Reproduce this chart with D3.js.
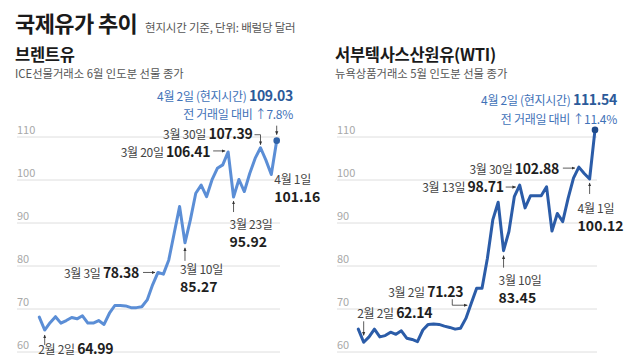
<!DOCTYPE html>
<html><head><meta charset="utf-8">
<script src="https://cdn.jsdelivr.net/npm/d3@7/dist/d3.min.js"></script>
<style>
html,body{margin:0;padding:0;background:#fff;}
svg{display:block;font-family:"Noto Sans CJK KR","Noto Sans",sans-serif;}
</style></head><body>
<svg id="c" width="640" height="360"></svg>
<script>
// ---- data ----
const dates = ["1/30","2/2","2/3","2/4","2/5","2/6","2/9","2/10","2/11","2/12","2/13","2/16","2/17","2/18","2/19","2/20","2/23","2/24","2/25","2/26","2/27","3/2","3/3","3/4","3/5","3/6","3/9","3/10","3/11","3/12","3/13","3/16","3/17","3/18","3/19","3/20","3/23","3/24","3/25","3/26","3/27","3/30","3/31","4/1","4/2"];
const brent = [68.0,64.99,66.7,68.1,66.6,67.2,67.9,67.6,68.3,66.6,66.6,67.2,66.3,68.9,70.7,70.7,70.6,70.2,70.2,70.4,72.0,75.5,78.38,78.0,81.3,87.5,93.7,85.27,90.6,96.8,98.7,96.0,99.9,102.6,103.4,106.41,95.92,100.0,97.2,101.4,104.9,107.39,104.5,101.16,109.03];
const wti = [65.2,62.14,63.4,65.2,63.4,63.7,64.5,64.0,64.8,63.1,62.8,62.3,65.0,66.3,66.4,66.3,65.9,65.6,65.2,65.4,67.7,71.23,74.7,74.7,81.7,90.6,94.7,83.45,87.9,96.0,98.71,93.4,96.2,96.2,96.2,98.3,88.0,92.1,90.2,95.6,100.3,102.88,101.4,100.12,111.54];
const yTicks = [60,70,80,90,100,110];
const title = "국제유가 추이";
const subtitle = "현지시간 기준, 단위: 배럴당 달러";
const brentName = "브렌트유", brentNote = "ICE선물거래소 6월 인도분 선물 종가";
const wtiName = "서부텍사스산원유(WTI)", wtiNote = "뉴욕상품거래소 5월 인도분 선물 종가";
const brentLast = {label:"4월 2일 (현지시간) ", change:"전 거래일 대비 ↑7.8%"};
const wtiLast = {label:"4월 2일 (현지시간) ", change:"전 거래일 대비 ↑11.4%"};
const brentLabels = [
  {date:"3/30", text:"3월 30일 "}, {date:"3/20", text:"3월 20일 "}, {date:"4/1", text:"4월 1일"},
  {date:"3/23", text:"3월 23일"}, {date:"3/10", text:"3월 10일"}, {date:"3/3", text:"3월 3일 "}, {date:"2/2", text:"2월 2일 "}];
const wtiLabels = [
  {date:"3/30", text:"3월 30일 "}, {date:"3/13", text:"3월 13일 "}, {date:"4/1", text:"4월 1일"},
  {date:"3/10", text:"3월 10일"}, {date:"3/2", text:"3월 2일 "}, {date:"2/2", text:"2월 2일 "}];

const svg = d3.select("#c");
const defs = svg.append("defs");
defs.append("marker").attr("id","ah").attr("viewBox","0 0 6 6").attr("refX",5).attr("refY",3)
  .attr("markerWidth",5).attr("markerHeight",5).attr("orient","auto")
  .append("path").attr("d","M0,0.6 L5.5,3 L0,5.4 Z").attr("fill","#333");

// titles
svg.append("text").attr("x",15).attr("y",32).attr("font-size",22).attr("font-weight",700)
  .attr("letter-spacing",-0.6).attr("fill","#1a1a1a").text(title);
svg.append("text").attr("x",145).attr("y",32).attr("font-size",11.5).attr("letter-spacing",-0.2)
  .attr("fill","#555").text(subtitle);
function header(x, name, note){
  svg.append("text").attr("x",x).attr("y",61).attr("font-size",16.5).attr("font-weight",700)
    .attr("letter-spacing",-0.3).attr("fill","#1a1a1a").text(name);
  svg.append("text").attr("x",x).attr("y",78).attr("font-size",11.3).attr("letter-spacing",0)
    .attr("fill","#555").text(note);
}
header(15, brentName, brentNote);
header(335, wtiName, wtiNote);

const y = d3.scaleLinear().domain([60,110]).range([351.5,136.5]);

function panel(opt){
  const x = d3.scalePoint().domain(dates).range(opt.xr);
  const g = svg.append("g");
  const axis = d3.axisLeft(y).tickValues(yTicks).tickSize(-(opt.gx[1]-opt.gx[0])).tickFormat(d3.format("d"));
  const ag = g.append("g").attr("transform",`translate(${opt.gx[0]},0)`).call(axis);
  ag.select(".domain").remove();
  ag.selectAll(".tick line").attr("stroke","#dedede").attr("stroke-width",1);
  ag.selectAll(".tick text").attr("x",0).attr("dy",-3).attr("text-anchor","start")
    .attr("font-size",11).attr("fill","#a8a8a8").attr("font-family","'Noto Sans CJK KR',sans-serif");
  const line = d3.line().x((d,i)=>x(dates[i])).y(d=>y(d));
  g.append("path").datum(opt.vals).attr("d",line).attr("fill","none")
    .attr("stroke",opt.color).attr("stroke-width",3).attr("stroke-linejoin","round").attr("stroke-linecap","round");
  const n = opt.vals.length-1;
  g.append("circle").attr("cx",x(dates[n])).attr("cy",y(opt.vals[n])).attr("r",3.3).attr("fill",opt.dot);
  return {x, g};
}

function val(vals, d){ return vals[dates.indexOf(d)]; }
function label(g, px, py, anchor, txt, num){
  const t = g.append("text").attr("x",px).attr("y",py).attr("text-anchor",anchor).attr("letter-spacing",-0.3);
  t.append("tspan").attr("font-size",12).attr("fill","#444").text(txt);
  if(num!==undefined) t.append("tspan").attr("font-size",14).attr("font-weight",700).attr("fill","#1e1e1e").text(num);
}
function label2(g, px, py, txt, num){
  g.append("text").attr("x",px).attr("y",py).attr("font-size",12).attr("letter-spacing",-0.3).attr("fill","#444").text(txt);
  g.append("text").attr("x",px).attr("y",py+18).attr("font-size",14).attr("font-weight",700).attr("fill","#1e1e1e").text(num);
}
function arrow(g, d){
  g.append("path").attr("d",d).attr("fill","none").attr("stroke","#333").attr("stroke-width",0.8).attr("marker-end","url(#ah)");
}
const fmt = d3.format(".2f");

// Brent panel
const B = panel({xr:[39.3,276.7], gx:[17,280], vals:brent, color:"#5b8ed6", dot:"#2f62a8"});
{
  const g = B.g, x = B.x, v = d => val(brent,d);
  const lx = x("4/2"), ly = y(brent[brent.length-1]);
  const t = g.append("text").attr("x",293).attr("y",101).attr("text-anchor","end").attr("letter-spacing",-0.3);
  t.append("tspan").attr("font-size",12).attr("fill","#3f72b8").text(brentLast.label);
  t.append("tspan").attr("font-size",14).attr("font-weight",700).attr("fill","#2c5a9a").text(fmt(brent[brent.length-1]));
  g.append("text").attr("x",293).attr("y",119).attr("text-anchor","end").attr("font-size",12).attr("letter-spacing",-0.3)
    .attr("fill","#3f72b8").text(brentLast.change);
  arrow(g, `M${lx},${ly-15}V${ly-6}`);
  // 3/30
  let p = [x("3/30"), y(v("3/30"))];
  label(g, p[0]-8, p[1]-8.5, "end", brentLabels[0].text, fmt(v("3/30")));
  arrow(g, `M${p[0]-6},${p[1]-13}H${p[0]}V${p[1]-3}`);
  // 3/20
  p = [x("3/20"), y(v("3/20"))];
  label(g, p[0]-18, p[1]+5.5, "end", brentLabels[1].text, fmt(v("3/20")));
  arrow(g, `M${p[0]-15},${p[1]-1}H${p[0]-3}`);
  // 4/1
  p = [x("4/1"), y(v("4/1"))];
  label2(g, p[0]+3, p[1]+9, brentLabels[2].text, fmt(v("4/1")));
  // 3/23
  p = [x("3/23"), y(v("3/23"))];
  arrow(g, `M${p[0]},${p[1]+15}V${p[1]+4}`);
  label2(g, p[0]-4, p[1]+32, brentLabels[3].text, fmt(v("3/23")));
  // 3/10
  p = [x("3/10"), y(v("3/10"))];
  arrow(g, `M${p[0]},${p[1]+18}V${p[1]+5}`);
  label2(g, p[0]-5, p[1]+31, brentLabels[4].text, fmt(v("3/10")));
  // 3/3
  p = [x("3/3"), y(v("3/3"))];
  label(g, p[0]-19, p[1]+6, "end", brentLabels[5].text, fmt(v("3/3")));
  arrow(g, `M${p[0]-15},${p[1]}H${p[0]-3}`);
  // 2/2
  p = [x("2/2"), y(v("2/2"))];
  arrow(g, `M${p[0]},${p[1]+15}V${p[1]+5}`);
  label(g, p[0]-6.5, p[1]+24, "start", brentLabels[6].text, fmt(v("2/2")));
}

// WTI panel
const Wp = panel({xr:[358.3,595], gx:[337,597], vals:wti, color:"#2b5ca8", dot:"#1f4a8a"});
{
  const g = Wp.g, x = Wp.x, v = d => val(wti,d);
  const t = g.append("text").attr("x",617).attr("y",105).attr("text-anchor","end").attr("letter-spacing",-0.3);
  t.append("tspan").attr("font-size",12).attr("fill","#3f72b8").text(wtiLast.label);
  t.append("tspan").attr("font-size",14).attr("font-weight",700).attr("fill","#2c5a9a").text(fmt(wti[wti.length-1]));
  g.append("text").attr("x",617).attr("y",124).attr("text-anchor","end").attr("font-size",12).attr("letter-spacing",-0.3)
    .attr("fill","#3f72b8").text(wtiLast.change);
  // 3/30
  let p = [x("3/30"), y(v("3/30"))];
  label(g, p[0]-20, p[1]+7, "end", wtiLabels[0].text, fmt(v("3/30")));
  arrow(g, `M${p[0]-16},${p[1]+1}H${p[0]-4}`);
  // 3/13
  p = [x("3/13"), y(v("3/13"))];
  label(g, p[0]-16, p[1]+7, "end", wtiLabels[1].text, fmt(v("3/13")));
  arrow(g, `M${p[0]-14},${p[1]+2}H${p[0]-4}`);
  // 4/1
  p = [x("4/1"), y(v("4/1"))];
  arrow(g, `M${p[0]},${p[1]+15}V${p[1]+4}`);
  label2(g, p[0]-12, p[1]+34, wtiLabels[2].text, fmt(v("4/1")));
  // 3/10
  p = [x("3/10"), y(v("3/10"))];
  arrow(g, `M${p[0]},${p[1]+17}V${p[1]+5}`);
  label2(g, p[0]-5, p[1]+34, wtiLabels[3].text, fmt(v("3/10")));
  // 3/2
  p = [x("3/2"), y(v("3/2"))];
  label(g, p[0]-8, p[1]-6, "end", wtiLabels[4].text, fmt(v("3/2")));
  arrow(g, `M${p[0]-19},${p[1]-4}V${p[1]+2}H${p[0]-4}`);
  // 2/2
  p = [x("2/2"), y(v("2/2"))];
  label(g, p[0]-6.5, p[1]-24, "start", wtiLabels[5].text, fmt(v("2/2")));
  arrow(g, `M${p[0]},${p[1]-21}V${p[1]-7}`);
}
</script></body></html>
